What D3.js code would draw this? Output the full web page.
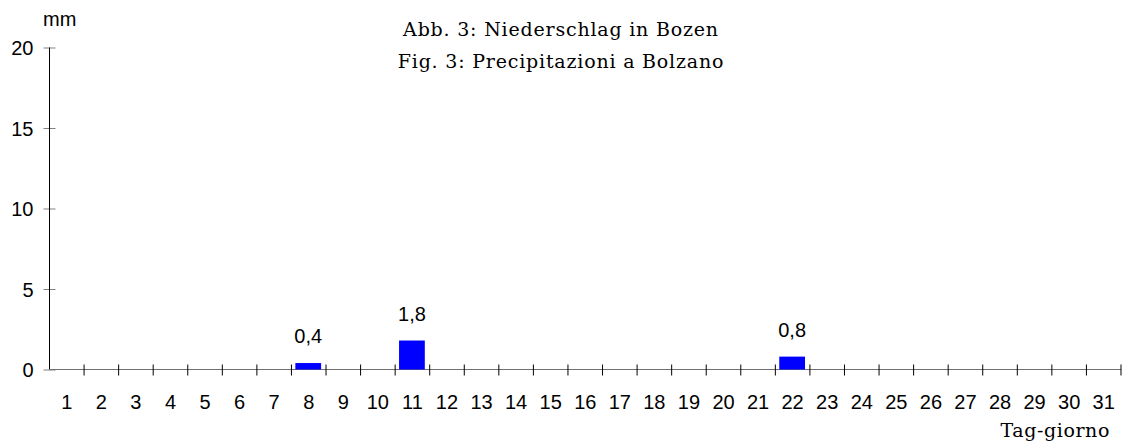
<!DOCTYPE html>
<html>
<head>
<meta charset="utf-8">
<script src="https://cdn.jsdelivr.net/npm/d3@7"></script>
<style>
  body { margin: 0; background: #fff; }
  svg { display: block; }
  .sans { font-family: Arial, "Liberation Sans", sans-serif; }
  .serif { font-family: "Palatino Linotype", "Book Antiqua", Palatino, "DejaVu Serif", serif; }
</style>
</head>
<body>
<svg id="chart" width="1123" height="446"></svg>
<script>
// data: days of the month and daily precipitation in mm (only rainy days non-zero)
var days = d3.range(1, 32).map(String);
var rainDays = ["8", "11", "22"];
var rainValues = [0.4, 1.8, 0.8];
var yTicks = [0, 5, 10, 15, 20];
var titleLines = ["Abb. 3: Niederschlag in Bozen", "Fig. 3: Precipitazioni a Bolzano"];

var svg = d3.select("#chart");
var width = +svg.attr("width"),
    height = +svg.attr("height");

var x = d3.scaleBand().domain(days).range([49.5, 1121]).padding(0);
var y = d3.scaleLinear().domain([0, 20]).range([369.5, 47.5]);

var fmt = function (v) { return String(v).replace(".", ","); };

// title
svg.selectAll("text.title")
    .data(titleLines)
    .enter()
    .append("text")
    .attr("class", "title serif")
    .attr("x", 561)
    .attr("y", function (d, i) { return 36 + i * 31.5; })
    .attr("text-anchor", "middle")
    .attr("font-size", 19)
    .attr("letter-spacing", 0.8)
    .text(function (d) { return d; });

// y axis
var yAxis = svg.append("g")
    .attr("class", "sans")
    .attr("transform", "translate(" + x.range()[0] + ",0)")
    .call(d3.axisLeft(y).tickValues(yTicks).tickSize(6).tickPadding(0));
yAxis.select(".domain").remove();
yAxis.selectAll(".tick line").attr("x1", -6).attr("x2", 6).attr("stroke", "#808080");
yAxis.selectAll(".tick text")
    .attr("x", -16)
    .attr("dy", "0.36em")
    .attr("font-size", 20)
    .attr("fill", "#000");
yAxis.append("line")
    .attr("y1", y(20)).attr("y2", y(0))
    .attr("stroke", "#000");

// x axis: ticks on band edges, labels in band centres
var xg = svg.append("g").attr("class", "sans");
xg.append("line")
    .attr("x1", x.range()[0]).attr("x2", x.range()[1])
    .attr("y1", y(0)).attr("y2", y(0))
    .attr("stroke", "#707070").attr("stroke-width", 1.2);
xg.selectAll("line.tick")
    .data(days)
    .enter()
    .append("line")
    .attr("class", "tick")
    .attr("x1", function (d) { return x(d) + x.bandwidth(); })
    .attr("x2", function (d) { return x(d) + x.bandwidth(); })
    .attr("y1", y(0) - 5).attr("y2", y(0) + 6)
    .attr("stroke", "#000");
xg.selectAll("text.lbl")
    .data(days)
    .enter()
    .append("text")
    .attr("class", "lbl")
    .attr("x", function (d) { return x(d) + x.bandwidth() / 2; })
    .attr("y", 408.5)
    .attr("text-anchor", "middle")
    .attr("font-size", 20)
    .text(function (d) { return d; });

// bars
var barW = x.bandwidth() * 0.745;
var bars = svg.append("g");
bars.selectAll("rect")
    .data(rainDays)
    .enter()
    .append("rect")
    .attr("x", function (d) { return x(d) + (x.bandwidth() - barW) / 2 - 0.5; })
    .attr("y", function (d, i) { return y(rainValues[i]); })
    .attr("width", barW)
    .attr("height", function (d, i) { return y(0) - y(rainValues[i]); })
    .attr("fill", "#0000ff");

// value labels
bars.selectAll("text")
    .data(rainDays)
    .enter()
    .append("text")
    .attr("class", "sans")
    .attr("x", function (d) { return x(d) + x.bandwidth() / 2 - 0.5; })
    .attr("y", function (d, i) { return y(rainValues[i]) - 20; })
    .attr("text-anchor", "middle")
    .attr("font-size", 20)
    .text(function (d, i) { return fmt(rainValues[i]); });

// unit and axis title
svg.append("text")
    .attr("class", "sans")
    .attr("x", 43).attr("y", 25.5)
    .attr("font-size", 20)
    .text("mm");
svg.append("text")
    .attr("class", "serif")
    .attr("x", 1110).attr("y", 437)
    .attr("text-anchor", "end")
    .attr("font-size", 19)
    .attr("letter-spacing", 0.6)
    .text("Tag-giorno");
</script>
</body>
</html>
